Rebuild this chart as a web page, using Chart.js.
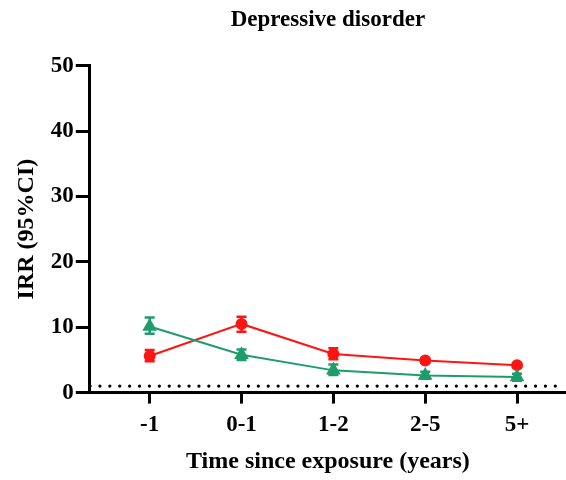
<!DOCTYPE html>
<html>
<head>
<meta charset="utf-8">
<script src="https://cdn.jsdelivr.net/npm/chart.js@4"></script>
<style>
    html, body { margin: 0; padding: 0; background: #fff; }
    #wrap { width: 566px; height: 480px; }
</style>
</head>
<body>
<div id="wrap"><canvas id="irrChart"></canvas></div>
<script>
// values
const periods = ['-1', '0-1', '1-2', '2-5', '5+'];
const redIrr = [5.6, 10.5, 5.9, 4.9, 4.2];
const redLow = [4.8, 9.3, 5.1, 4.6, 3.9];
const redHigh = [6.5, 11.6, 6.8, 5.2, 4.5];
const greenIrr = [10.1, 5.8, 3.4, 2.6, 2.4];
const greenLow = [9.0, 5.0, 2.7, 2.1, 1.8];
const greenHigh = [11.5, 6.6, 4.3, 3.2, 2.9];
const refLine = 1;
const yTicks = [0, 10, 20, 30, 40, 50];

const RED = '#ff1414';
const GREEN = '#1f9c6c';
const FONT = "'Liberation Serif', 'Times New Roman', serif";

const toPoints = (vals) => vals.map((v, i) => ({ x: i, y: v }));

const errorBars = {
    id: 'errorBars',
    beforeDatasetsDraw(chart) {
        const { ctx, scales: { x, y } } = chart;
        chart.data.datasets.forEach((ds) => {
            if (!ds.low) return;
            ctx.save();
            ctx.strokeStyle = ds.borderColor;
            ctx.lineWidth = 2.5;
            ds.low.forEach((lo, i) => {
                const px = x.getPixelForValue(i);
                const top = y.getPixelForValue(ds.high[i]);
                const bot = y.getPixelForValue(lo);
                ctx.beginPath();
                ctx.moveTo(px, top); ctx.lineTo(px, bot);
                ctx.moveTo(px - 5, top); ctx.lineTo(px + 5, top);
                ctx.moveTo(px - 5, bot); ctx.lineTo(px + 5, bot);
                ctx.stroke();
            });
            ctx.restore();
        });
    }
};

new Chart(document.getElementById('irrChart'), {
    type: 'line',
    data: {
        datasets: [
            {
                data: [{ x: -0.65, y: refLine }, { x: 4.47, y: refLine }],
                borderColor: '#000',
                borderWidth: 3.2,
                borderDash: [0.1, 9.8],
                borderCapStyle: 'round',
                pointRadius: 0
            },
            {
                data: toPoints(greenIrr),
                low: greenLow,
                high: greenHigh,
                borderColor: GREEN,
                backgroundColor: GREEN,
                borderWidth: 2,
                pointStyle: 'triangle',
                pointRadius: 6.5,
                tension: 0
            },
            {
                data: toPoints(redIrr),
                low: redLow,
                high: redHigh,
                borderColor: RED,
                backgroundColor: RED,
                borderWidth: 2,
                pointStyle: 'circle',
                pointRadius: 5,
                tension: 0
            }
        ]
    },
    options: {
        responsive: true,
        maintainAspectRatio: false,
        animation: false,
        layout: { autoPadding: false, padding: { top: 0, right: 0, left: 8, bottom: 0 } },
        plugins: {
            legend: { display: false },
            tooltip: { enabled: false },
            title: {
                display: true,
                fullSize: false,
                text: 'Depressive disorder',
                color: '#000',
                font: { family: FONT, size: 23, weight: 'bold' },
                padding: { top: 6, bottom: 32 }
            }
        },
        scales: {
            x: {
                type: 'linear',
                min: -0.652,
                max: 4.533,
                afterBuildTicks: (axis) => { axis.ticks = periods.map((_, i) => ({ value: i })); },
                ticks: {
                    callback: (v) => periods[v],
                    color: '#000',
                    font: { family: FONT, size: 23, weight: 'bold' },
                    padding: 8,
                    maxRotation: 0
                },
                grid: { drawOnChartArea: false, tickLength: 11, tickWidth: 3, color: '#000' },
                border: { display: true, color: '#000', width: 3 },
                title: {
                    display: true,
                    text: 'Time since exposure (years)',
                    color: '#000',
                    font: { family: FONT, size: 24, weight: 'bold' },
                    padding: { top: 0 }
                }
            },
            y: {
                min: 0,
                max: 50,
                afterBuildTicks: (axis) => { axis.ticks = yTicks.map(v => ({ value: v })); },
                ticks: {
                    color: '#000',
                    font: { family: FONT, size: 23, weight: 'bold' },
                    padding: 2
                },
                grid: { drawOnChartArea: false, tickLength: 14, tickWidth: 3, color: '#000' },
                border: { display: true, color: '#000', width: 3 },
                title: {
                    display: true,
                    text: 'IRR (95%CI)',
                    color: '#000',
                    font: { family: FONT, size: 24, weight: 'bold' },
                    padding: { bottom: 8 }
                }
            }
        }
    },
    plugins: [errorBars]
});
</script>
</body>
</html>
